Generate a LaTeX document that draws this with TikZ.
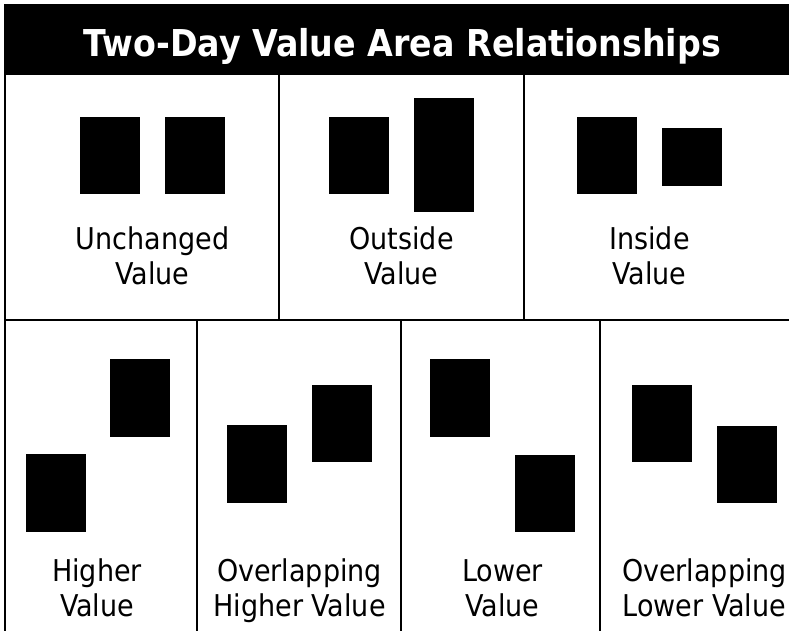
\documentclass[tikz,border=0pt]{standalone}
\usepackage{fontspec}
\setmainfont{DejaVu Sans Condensed}
\begin{document}
\begin{tikzpicture}[x=1pt,y=-1pt,
  blk/.style={fill=black,draw=none,inner sep=0pt,outer sep=0pt,anchor=north west},
  frame/.style={line width=2.2pt,draw=black},
  lbl/.style={align=center,font=\fontsize{30}{35}\selectfont,inner sep=0pt,anchor=base},
  ttl/.style={text=white,font=\bfseries\fontsize{37}{42}\selectfont,inner sep=0pt,anchor=base}]
\useasboundingbox (0,0) rectangle (789,631);
\clip (0,0) rectangle (789,631);
% title band
\fill[black] (5,5) rectangle (800,75);
\node[ttl] (title) at (402.5,57) {Two-Day Value Area Relationships};
% frame
\coordinate (tl) at (5,5);
\coordinate (br) at (800,650);
\draw[frame] (tl) rectangle (br);
\coordinate (r1a) at (5,320);
\coordinate (r1b) at (800,320);
\draw[frame] (r1a) -- (r1b);
\coordinate (d1a) at (279,75);  \coordinate (d1b) at (279,320);
\coordinate (d2a) at (524,75);  \coordinate (d2b) at (524,320);
\coordinate (d3a) at (197,320); \coordinate (d3b) at (197,650);
\coordinate (d4a) at (401,320); \coordinate (d4b) at (401,650);
\coordinate (d5a) at (600,320); \coordinate (d5b) at (600,650);
\draw[frame] (d1a) -- (d1b) (d2a) -- (d2b) (d3a) -- (d3b) (d4a) -- (d4b) (d5a) -- (d5b);
% Unchanged
\node[blk,minimum width=60pt,minimum height=77pt] (u1) at (80,117) {};
\node[blk,minimum width=60pt,minimum height=77pt] (u2) at (165,117) {};
% Outside
\node[blk,minimum width=60pt,minimum height=77pt] (o1) at (329,117) {};
\node[blk,minimum width=60pt,minimum height=113pt] (o2) at (414,98.5) {};
% Inside
\node[blk,minimum width=60pt,minimum height=77pt] (i1) at (577,117) {};
\node[blk,minimum width=60pt,minimum height=58pt] (i2) at (662,128.5) {};
% Higher
\node[blk,minimum width=60pt,minimum height=77.5pt] (h1) at (26,454) {};
\node[blk,minimum width=60pt,minimum height=77.5pt] (h2) at (110,359) {};
% Overlapping Higher
\node[blk,minimum width=60pt,minimum height=77.5pt] (oh1) at (227,425) {};
\node[blk,minimum width=60pt,minimum height=77.5pt] (oh2) at (312,384.5) {};
% Lower
\node[blk,minimum width=60pt,minimum height=77.5pt] (l1) at (430,359) {};
\node[blk,minimum width=60pt,minimum height=77.5pt] (l2) at (515,454.5) {};
% Overlapping Lower
\node[blk,minimum width=60pt,minimum height=77.5pt] (ol1) at (632,384.5) {};
\node[blk,minimum width=60pt,minimum height=77.5pt] (ol2) at (717,425.5) {};
% labels
\node[lbl] (tu) at (152.5,284.5) {Unchanged\\Value};
\node[lbl] (to) at (401.5,284.5) {Outside\\Value};
\node[lbl] (ti) at (649.5,284.5) {Inside\\Value};
\node[lbl] (th) at (97,616) {Higher\\Value};
\node[lbl] (toh) at (299.5,616) {Overlapping\\Higher Value};
\node[lbl] (tl2) at (502.5,616) {Lower\\Value};
\node[lbl] (tol) at (704.5,616) {Overlapping\\Lower Value};
\end{tikzpicture}
\end{document}
